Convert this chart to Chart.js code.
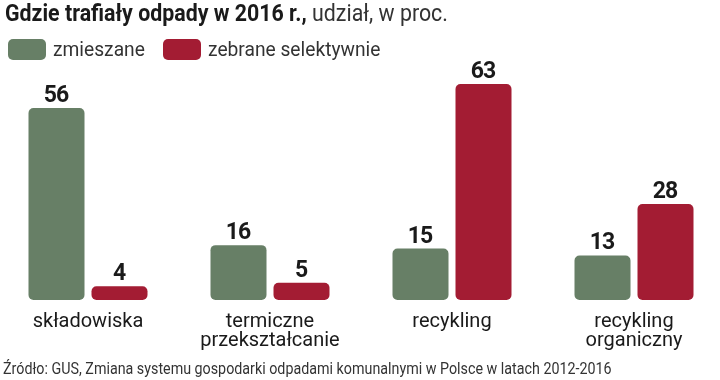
<!DOCTYPE html>
<html>
<head>
<meta charset="utf-8">
<script src="https://cdn.jsdelivr.net/npm/chart.js@4"></script>
<style>
  html, body { margin: 0; padding: 0; background: #fff; width: 720px; height: 380px; overflow: hidden; }
  body { position: relative; font-family: "Roboto", sans-serif; color: #1a1a1a; }
  #title { position: absolute; left: 5px; top: 0px; font-size: 24px; line-height: 26px; white-space: nowrap; transform: scaleX(0.89); transform-origin: left top; }
  #title b { font-weight: 700; }
  #title span { font-weight: 400; color: #333; }
  #legend { position: absolute; left: 8px; top: 37px; display: flex; align-items: center; font-size: 20px; color: #333; }
  .item { display: flex; align-items: center; margin-right: 14px; }
  .sw { width: 38px; height: 21px; border-radius: 5px; margin-right: 7px; }
  .item span { display: inline-block; transform: scaleX(0.96); transform-origin: left center; }
  #source { position: absolute; left: 3px; top: 359px; font-size: 16px; color: #333; white-space: nowrap; transform: scaleX(0.893); transform-origin: left top; }
  #wrap { position: absolute; left: -3px; top: 0; width: 728px; height: 380px; }
</style>
</head>
<body>
<div id="wrap"><canvas id="c"></canvas></div>
<div id="title"><b>Gdzie trafiały odpady w 2016 r.,</b> <span>udział, w proc.</span></div>
<div id="legend"></div>
<div id="source">Źródło: GUS, Zmiana systemu gospodarki odpadami komunalnymi w Polsce w latach 2012-2016</div>
<script>
const categories = [["składowiska"], ["termiczne", "przekształcanie"], ["recykling"], ["recykling", "organiczny"]];
const seriesNames = ["zmieszane", "zebrane selektywnie"];
const mixed = [56, 16, 15, 13];
const selective = [4, 5, 63, 28];
const colors = ["#677f66", "#a31c33"];

const FONT = '"Roboto", sans-serif';

// HTML legend built from series names
const leg = document.getElementById('legend');
seriesNames.forEach((n, i) => {
  const it = document.createElement('div'); it.className = 'item';
  const sw = document.createElement('div'); sw.className = 'sw'; sw.style.background = colors[i];
  const t = document.createElement('span'); t.textContent = n;
  it.appendChild(sw); it.appendChild(t); leg.appendChild(it);
});

const valueLabels = {
  id: 'valueLabels',
  afterDatasetsDraw(chart) {
    const ctx = chart.ctx;
    ctx.save();
    ctx.font = 'bold 23px ' + FONT;
    if ('letterSpacing' in ctx) ctx.letterSpacing = '-1px';
    ctx.fillStyle = '#1a1a1a';
    ctx.textAlign = 'center';
    ctx.textBaseline = 'alphabetic';
    chart.data.datasets.forEach((ds, di) => {
      chart.getDatasetMeta(di).data.forEach((bar, i) => {
        ctx.fillText(String(ds.data[i]), bar.x - 0.5, bar.y - 6);
      });
    });
    ctx.restore();
  }
};

new Chart(document.getElementById('c'), {
  type: 'bar',
  data: {
    labels: categories,
    datasets: [
      { label: seriesNames[0], data: mixed, backgroundColor: colors[0] },
      { label: seriesNames[1], data: selective, backgroundColor: colors[1] }
    ]
  },
  options: {
    responsive: true,
    maintainAspectRatio: false,
    animation: false,
    layout: { padding: { top: 60, left: 0, right: 0, bottom: 0 } },
    datasets: {
      bar: {
        categoryPercentage: 126 / 182,
        barPercentage: 56 / 63,
        borderRadius: 5,
        borderSkipped: false
      }
    },
    plugins: { legend: { display: false }, title: { display: false }, tooltip: { enabled: false } },
    scales: {
      x: {
        grid: { display: false, drawTicks: false },
        border: { display: false },
        ticks: { color: '#1a1a1a', font: { family: FONT, size: 20, lineHeight: 0.95 }, padding: 12, maxRotation: 0, autoSkip: false },
        afterFit(scale) { scale.height = 80; }
      },
      y: {
        display: false,
        min: 0,
        max: 70
      }
    }
  },
  plugins: [valueLabels]
});
</script>
</body>
</html>
